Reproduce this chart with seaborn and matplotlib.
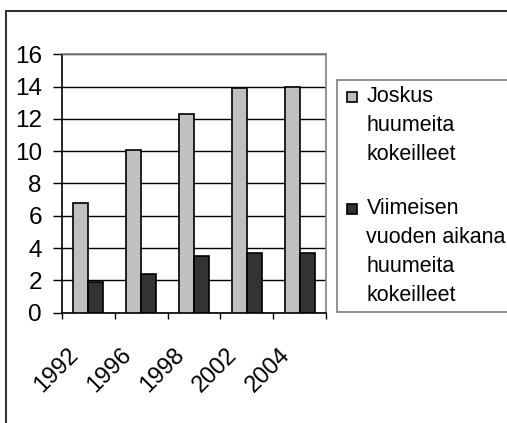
import numpy as np
import pandas as pd
import seaborn as sns
import matplotlib.pyplot as plt
from matplotlib.patches import Rectangle
from matplotlib.transforms import ScaledTranslation

years = ["1992", "1996", "1998", "2002", "2004"]
ever_tried = [6.8, 10.1, 12.3, 13.9, 14.0]
last_year = [1.9, 2.4, 3.5, 3.7, 3.7]
series_names = ["Joskus\nhuumeita\nkokeilleet",
                "Viimeisen\nvuoden aikana\nhuumeita\nkokeilleet"]
colors = ["#C0C0C0", "#333333"]
y_ticks = [0, 2, 4, 6, 8, 10, 12, 14, 16]

df = pd.DataFrame({
    "year": years * 2,
    "value": ever_tried + last_year,
    "series": [series_names[0]] * len(years) + [series_names[1]] * len(years),
})

W, H = 507, 423
sns.set_theme(style="white")
plt.rcParams["font.family"] = ["Liberation Sans", "DejaVu Sans"]

fig = plt.figure(figsize=(W / 100, H / 100), dpi=100)
ax = fig.add_axes([62 / W, 1 - 312.7 / H, (326 - 62) / W, (312.7 - 54.3) / H])

sns.barplot(data=df, x="year", y="value", hue="series", palette=colors,
            edgecolor="black", linewidth=1.2, width=0.57, gap=0,
            legend=False, ax=ax, zorder=3)

ax.set_xlim(-0.5, len(years) - 0.5)
ax.set_ylim(0, 16)
ax.set_xlabel("")
ax.set_ylabel("")

# grid + frame
ax.set_axisbelow(True)
ax.yaxis.grid(True, color="black", linewidth=1)
ax.xaxis.grid(False)
for side in ["top", "right"]:
    ax.spines[side].set_color("#808080")
    ax.spines[side].set_linewidth(1.2)
for side in ["left", "bottom"]:
    ax.spines[side].set_color("black")
    ax.spines[side].set_linewidth(1.2)

ax.set_yticks(y_ticks)
ax.set_yticklabels([str(v) for v in y_ticks])
ax.tick_params(axis="y", direction="out", length=6.5, width=1, color="black",
               pad=8, labelsize=17.5, labelcolor="black", left=True)

# category boundaries as ticks, labels on minor ticks
ax.set_xticks(np.arange(-0.5, len(years), 1.0))
ax.set_xticklabels([])
ax.set_xticks(np.arange(len(years)), minor=True)
ax.set_xticklabels(years, minor=True, rotation=45, ha="right", va="center",
                   rotation_mode="anchor")
ax.tick_params(axis="x", which="major", direction="out", length=4.5, width=1,
               color="black", bottom=True)
ax.tick_params(axis="x", which="minor", length=0, pad=28, labelsize=17,
               labelcolor="black")
for lab in ax.get_xticklabels(minor=True):
    lab.set_transform(lab.get_transform() +
                      ScaledTranslation(-13 / 100, 0, fig.dpi_scale_trans))

# legend box
fig.patches.append(Rectangle((337 / W, 1 - 312 / H), 1.0, (312 - 80) / H,
                             transform=fig.transFigure, facecolor="white",
                             edgecolor="#808080", linewidth=1.2, zorder=1))
swatch_top = [92, 204]
text_top = [86, 198]
for name, col, top, ttop in zip(series_names, colors, swatch_top, text_top):
    fig.patches.append(Rectangle((347 / W, 1 - (top + 10) / H), 10 / W, 10 / H,
                                 transform=fig.transFigure, facecolor=col,
                                 edgecolor="black", linewidth=1.2, zorder=2))
    fig.text(366.5 / W, 1 - ttop / H, name, ha="left", va="top",
             fontsize=15.5, linespacing=1.5, color="black", zorder=3)

# outer chart border
fig.patches.append(Rectangle((5.5 / W, -0.1), 1.0, 1.1 - 11 / H,
                             transform=fig.transFigure, facecolor="none",
                             edgecolor="#333333", linewidth=1.5, zorder=0))

fig.savefig("out.png", dpi=100)
